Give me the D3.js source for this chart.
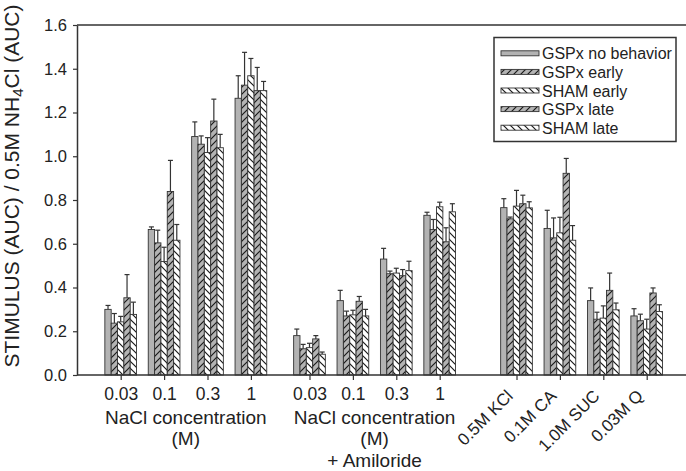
<!DOCTYPE html>
<html>
<head>
<meta charset="utf-8">
<script src="https://cdn.jsdelivr.net/npm/d3@7"></script>
<style>
  html, body { margin: 0; padding: 0; background: #fff; }
  svg { display: block; font-family: "Liberation Sans", Arial, sans-serif; }
</style>
</head>
<body>
<svg id="chart" width="686" height="471"></svg>
<script>
// Categories along the x axis (three blocks of four)
const categories = ["0.03", "0.1", "0.3", "1", "0.03", "0.1", "0.3", "1",
                    "0.5M KCl", "0.1M CA", "1.0M SUC", "0.03M Q"];
const categoryGroup = [0, 0, 0, 0, 1, 1, 1, 1, 2, 2, 2, 2];

const seriesNames = ["GSPx no behavior", "GSPx early", "SHAM early", "GSPx late", "SHAM late"];

// Mean responses (stimulus AUC / 0.5M NH4Cl AUC)
const gspxNoBehavior = [0.300, 0.665, 1.090, 1.265, 0.180, 0.340, 0.530, 0.730, 0.765, 0.670, 0.340, 0.270];
const gspxEarly      = [0.237, 0.604, 1.055, 1.325, 0.120, 0.270, 0.463, 0.665, 0.714, 0.627, 0.255, 0.248];
const shamEarly      = [0.243, 0.519, 1.017, 1.368, 0.125, 0.275, 0.466, 0.769, 0.772, 0.650, 0.260, 0.210];
const gspxLate       = [0.353, 0.839, 1.161, 1.300, 0.165, 0.337, 0.454, 0.609, 0.783, 0.922, 0.387, 0.375];
const shamLate       = [0.277, 0.616, 1.039, 1.300, 0.095, 0.270, 0.477, 0.746, 0.764, 0.616, 0.298, 0.290];

// Standard errors (upper error bars)
const gspxNoBehaviorSem = [0.018, 0.012, 0.067, 0.103, 0.030, 0.047, 0.049, 0.014, 0.041, 0.083, 0.058, 0.033];
const gspxEarlySem      = [0.044, 0.058, 0.038, 0.150, 0.020, 0.022, 0.012, 0.046, 0.008, 0.091, 0.032, 0.030];
const shamEarlySem      = [0.025, 0.065, 0.068, 0.079, 0.020, 0.021, 0.022, 0.021, 0.072, 0.071, 0.056, 0.045];
const gspxLateSem       = [0.106, 0.142, 0.100, 0.106, 0.015, 0.022, 0.028, 0.064, 0.039, 0.068, 0.079, 0.023];
const shamLateSem       = [0.056, 0.072, 0.061, 0.042, 0.010, 0.030, 0.043, 0.037, 0.028, 0.067, 0.031, 0.031];

const yTicks = [0, 0.2, 0.4, 0.6, 0.8, 1.0, 1.2, 1.4, 1.6];
const groupCaptions = [["NaCl concentration", "(M)"],
                       ["NaCl concentration", "(M)", "+ Amiloride"]];

const means = [gspxNoBehavior, gspxEarly, shamEarly, gspxLate, shamLate];
const sems  = [gspxNoBehaviorSem, gspxEarlySem, shamEarlySem, gspxLateSem, shamLateSem];
const fills = ["solid", "fwd", "back", "fwd", "back"];

const svg = d3.select("#chart");
const plotLeft = 77, plotRight = 686, plotTop = 25, plotBottom = 375;

// hatch patterns
const defs = svg.append("defs");
const gray = "#b3b3b3";
const pf = defs.append("pattern").attr("id", "fwd").attr("patternUnits", "userSpaceOnUse")
  .attr("width", 7).attr("height", 7);
pf.append("rect").attr("width", 7).attr("height", 7).attr("fill", gray);
pf.append("path").attr("d", "M-1,1 l2,-2 M0,7 l7,-7 M6,8 l2,-2")
  .attr("stroke", "#1a1a1a").attr("stroke-width", 1.2);
const pb = defs.append("pattern").attr("id", "back").attr("patternUnits", "userSpaceOnUse")
  .attr("width", 7).attr("height", 7);
pb.append("rect").attr("width", 7).attr("height", 7).attr("fill", "#fff");
pb.append("path").attr("d", "M-1,6 l2,2 M0,0 l7,7 M6,-1 l2,2")
  .attr("stroke", "#1a1a1a").attr("stroke-width", 1.2);
const fillOf = f => f === "solid" ? gray : `url(#${f})`;

// x placement: extra spacing between blocks (layout only)
const groupOffset = [0, 0.35, 1.12];
const slot = categories.map((c, i) => i + groupOffset[categoryGroup[i]]);
const xSlot = d3.scaleLinear().domain([0, 1]).range([120.7, 164.1]);
const x = d3.scaleOrdinal().domain(d3.range(categories.length)).range(slot.map(s => xSlot(s)));
const inner = d3.scaleBand().domain(d3.range(seriesNames.length)).range([-15.85, 15.85]);

const y = d3.scaleLinear().domain([0, 1.6]).range([plotBottom, plotTop]);

// top frame line
svg.append("line").attr("x1", plotLeft).attr("x2", plotRight).attr("y1", plotTop).attr("y2", plotTop)
  .attr("stroke", "#333").attr("stroke-width", 1.5);

// bars and error bars
const barData = [];
categories.forEach((c, i) => {
  seriesNames.forEach((s, k) => {
    barData.push({ i, k, v: means[k][i], e: sems[k][i] });
  });
});
const bars = svg.append("g");
bars.selectAll("line.err").data(barData).join("line").attr("class", "err")
  .attr("x1", d => x(d.i) + inner(d.k) + inner.bandwidth() / 2)
  .attr("x2", d => x(d.i) + inner(d.k) + inner.bandwidth() / 2)
  .attr("y1", d => y(d.v)).attr("y2", d => y(d.v + d.e))
  .attr("stroke", "#333").attr("stroke-width", 1.2);
bars.selectAll("line.cap").data(barData).join("line").attr("class", "cap")
  .attr("x1", d => x(d.i) + inner(d.k) + inner.bandwidth() / 2 - 2.5)
  .attr("x2", d => x(d.i) + inner(d.k) + inner.bandwidth() / 2 + 2.5)
  .attr("y1", d => y(d.v + d.e)).attr("y2", d => y(d.v + d.e))
  .attr("stroke", "#333").attr("stroke-width", 1.2);
bars.selectAll("rect").data(barData).join("rect")
  .attr("x", d => x(d.i) + inner(d.k))
  .attr("width", inner.bandwidth())
  .attr("y", d => y(d.v))
  .attr("height", d => y(0) - y(d.v))
  .attr("fill", d => fillOf(fills[d.k]))
  .attr("stroke", "#333").attr("stroke-width", 0.9);

// y axis
const yAxis = svg.append("g").attr("transform", `translate(${plotLeft},0)`)
  .call(d3.axisLeft(y).tickValues(yTicks).tickFormat(d3.format(".1f")).tickSize(4).tickSizeOuter(0).tickPadding(6));
yAxis.select(".domain").attr("stroke", "#333").attr("stroke-width", 1.5);
yAxis.selectAll(".tick line").attr("stroke", "#333").attr("stroke-width", 1.2);
yAxis.selectAll("text").attr("font-size", 16.5).attr("fill", "#222")
  .attr("font-family", "Liberation Sans, Arial, sans-serif");

// x axis
const xAxis = svg.append("g").attr("transform", `translate(0,${plotBottom})`)
  .call(d3.axisBottom(x).tickFormat(i => categories[i]).tickSize(5).tickPadding(8));
xAxis.select(".domain").remove();
xAxis.selectAll(".tick line").attr("stroke", "#333").attr("stroke-width", 1.2);
xAxis.selectAll("text").attr("font-size", 17.5).attr("fill", "#222")
  .attr("font-family", "Liberation Sans, Arial, sans-serif");
xAxis.selectAll(".tick").filter(i => categoryGroup[i] === 2).select("text")
  .attr("text-anchor", "end").attr("dy", null).attr("y", null)
  .attr("font-size", 17)
  .attr("transform", "translate(-3,22) rotate(-45)");
svg.append("line").attr("x1", plotLeft).attr("x2", plotRight).attr("y1", plotBottom).attr("y2", plotBottom)
  .attr("stroke", "#333").attr("stroke-width", 1.5);

// block captions
const lineY = [424, 445, 467];
groupCaptions.forEach((lines, g) => {
  const idx = d3.range(categories.length).filter(i => categoryGroup[i] === g);
  const cx = (x(idx[0]) + x(idx[idx.length - 1])) / 2;
  lines.forEach((t, j) => {
    svg.append("text").attr("x", cx).attr("y", lineY[j]).attr("text-anchor", "middle")
      .attr("font-size", 19).attr("fill", "#222").text(t);
  });
});

// y axis title
const yt = svg.append("text").attr("transform", "translate(18.5,186) rotate(-90)")
  .attr("text-anchor", "middle").attr("font-size", 21).attr("fill", "#222");
yt.append("tspan").text("STIMULUS (AUC) / 0.5M NH");
yt.append("tspan").attr("font-size", 15).attr("dy", 4).text("4");
yt.append("tspan").attr("dy", -4).text("Cl (AUC)");

// legend
const lg = svg.append("g");
lg.append("rect").attr("x", 494).attr("y", 37.5).attr("width", 182).attr("height", 104)
  .attr("fill", "#fff").attr("stroke", "#333").attr("stroke-width", 1.5);
seriesNames.forEach((s, k) => {
  const cy = 53.3 + k * 18.6;
  lg.append("rect").attr("x", 501).attr("y", cy - 2.5).attr("width", 38).attr("height", 5)
    .attr("fill", fillOf(fills[k])).attr("stroke", "#333").attr("stroke-width", 0.9);
  lg.append("text").attr("x", 542).attr("y", cy + 6).attr("font-size", 16)
    .attr("fill", "#222").text(s);
});
</script>
</body>
</html>
